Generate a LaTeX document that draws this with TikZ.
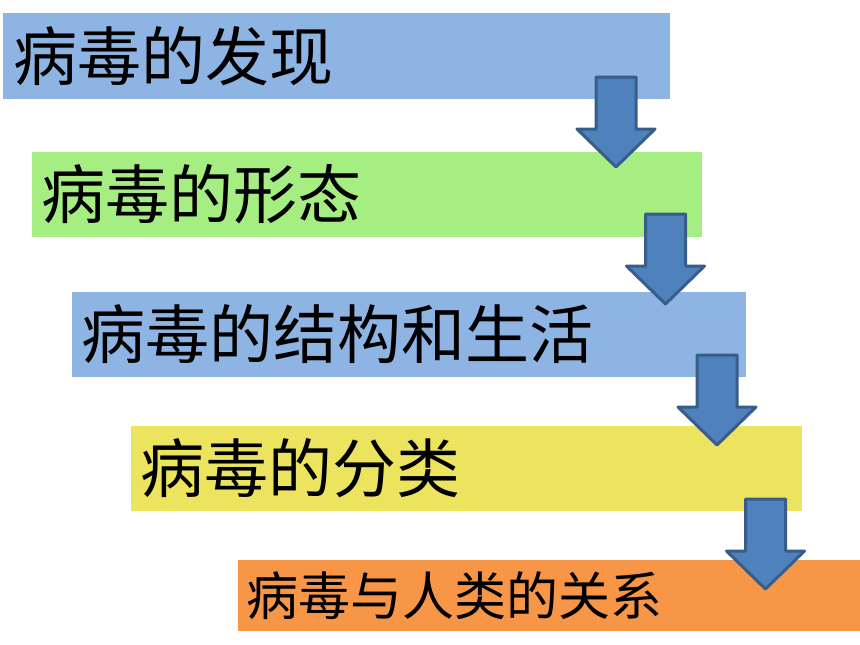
\documentclass[tikz,border=0pt]{standalone}
\usepackage{fontspec}
\newfontfamily\cjk{Noto Sans CJK SC}
\usetikzlibrary{calc}
\definecolor{boxblue}{HTML}{8EB4E3}
\definecolor{boxgreen}{HTML}{A6EE82}
\definecolor{boxyellow}{HTML}{ECE45E}
\definecolor{boxorange}{HTML}{F79646}
\definecolor{arrfill}{HTML}{4F81BD}
\definecolor{arrline}{HTML}{385D8A}
\tikzset{
  stagebox/.style={draw=none, inner sep=0pt, outer sep=0pt, anchor=north west},
  biglbl/.style={inner sep=0pt, anchor=west, font=\cjk\fontsize{64}{64}\selectfont},
  smalllbl/.style={inner sep=0pt, anchor=west, font=\cjk\fontsize{52}{52}\selectfont},
  blockarr/.style={fill=arrfill, draw=arrline, line width=3pt, line join=round}
}
\newcommand\downblockarrow[1]{%
  \draw[blockarr] ($(#1)+(-20,0)$) -- ($(#1)+(20,0)$) -- ($(#1)+(20,52)$) -- ($(#1)+(39,52)$)
    -- ($(#1)+(0,90)$) -- ($(#1)+(-39,52)$) -- ($(#1)+(-20,52)$) -- cycle;}
\begin{document}
\begin{tikzpicture}[x=1pt,y=-1pt]
\useasboundingbox[fill=white] (0,0) rectangle (860,645);
% boxes
\node[stagebox, fill=boxblue,   minimum width=667, minimum height=86] (b1) at (3,13) {};
\node[stagebox, fill=boxgreen,  minimum width=670, minimum height=85] (b2) at (32,152) {};
\node[stagebox, fill=boxblue,   minimum width=674, minimum height=85] (b3) at (72,292) {};
\node[stagebox, fill=boxyellow, minimum width=671, minimum height=85] (b4) at (131,426) {};
\node[stagebox, fill=boxorange, minimum width=622, minimum height=71] (b5) at (238,560) {};
% labels
\node[biglbl] (t1) at ([xshift=10pt]b1.west) {病毒的发现};
\node[biglbl] (t2) at ([xshift=9pt]b2.west) {病毒的形态};
\node[biglbl] (t3) at ([xshift=9pt]b3.west) {病毒的结构和生活};
\node[biglbl] (t4) at ([xshift=9pt]b4.west) {病毒的分类};
\node[smalllbl] (t5) at ([xshift=8pt]b5.west) {病毒与人类的关系};
% arrows
\coordinate (a1) at (616,77);
\coordinate (a2) at (665.5,214);
\coordinate (a3) at (717,355);
\coordinate (a4) at (765.5,499);
\downblockarrow{a1}
\downblockarrow{a2}
\downblockarrow{a3}
\downblockarrow{a4}
\end{tikzpicture}
\end{document}
